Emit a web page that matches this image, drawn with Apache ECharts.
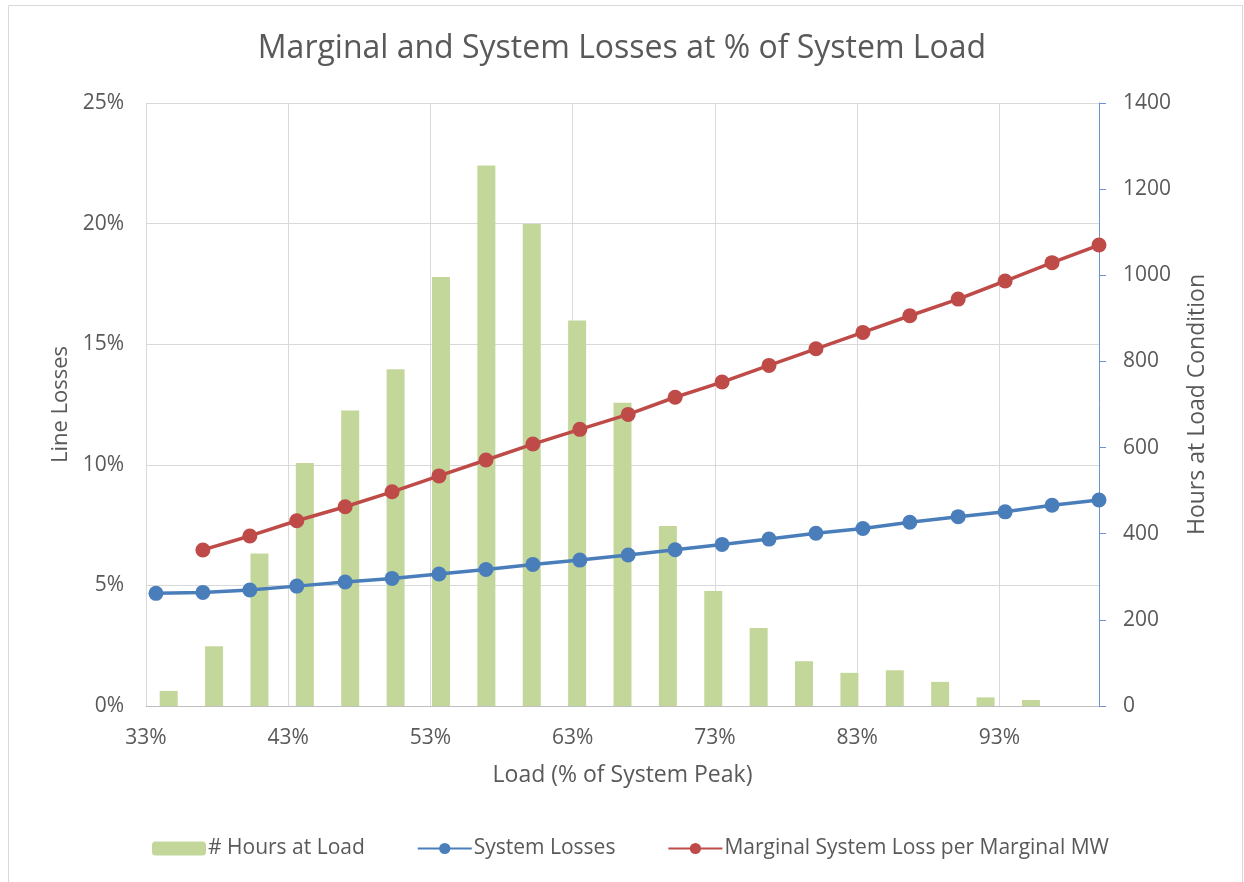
<!DOCTYPE html>
<html>
<head>
<meta charset="utf-8">
<script src="https://cdn.jsdelivr.net/npm/echarts@6/dist/echarts.min.js"></script>
<style>
html,body{margin:0;padding:0;background:#fff;}
#chart{width:1244px;height:882px;}
</style>
</head>
<body>
<div id="chart"></div>
<script>
// Data
const titleText = 'Marginal and System Losses at % of System Load';
const xTickLabels = ['33%', '43%', '53%', '63%', '73%', '83%', '93%'];
const leftTickLabels = ['0%', '5%', '10%', '15%', '20%', '25%'];
const rightTickLabels = ['0', '200', '400', '600', '800', '1000', '1200', '1400'];

// # Hours at Load (bars, on 21 load bins; last bin empty)
const hourBins = ['b1','b2','b3','b4','b5','b6','b7','b8','b9','b10','b11','b12','b13','b14','b15','b16','b17','b18','b19','b20','b21'];
const hoursAtLoad = [35, 139, 354, 564, 686, 782, 996, 1255, 1119, 895, 704, 418, 267, 181, 104, 77, 83, 56, 20, 14, 0];

// Load (% of system peak) for the line points
const loadPct = [33.7, 37.0, 40.3, 43.6, 47.0, 50.3, 53.6, 56.9, 60.2, 63.5, 66.9, 70.2, 73.5, 76.8, 80.1, 83.4, 86.7, 90.1, 93.4, 96.7, 100.0];
// System Losses (%)
const systemLosses = [4.67, 4.71, 4.81, 4.97, 5.14, 5.29, 5.47, 5.66, 5.87, 6.05, 6.26, 6.48, 6.70, 6.92, 7.16, 7.36, 7.62, 7.85, 8.05, 8.32, 8.54];
// Marginal System Loss per Marginal MW (%) — starts at second load point
const marginalLoss = [null, 6.47, 7.05, 7.68, 8.26, 8.88, 9.54, 10.20, 10.86, 11.47, 12.09, 12.80, 13.43, 14.12, 14.81, 15.49, 16.18, 16.87, 17.62, 18.38, 19.11];

const FONT = '"Open Sans", "Noto Sans", sans-serif';
const TXT = '#595959';

const chart = echarts.init(document.getElementById('chart'), null, {renderer: 'canvas'});

const pairs = (xs, ys) => xs.map((x, i) => [x, ys[i]]).filter(p => p[1] !== null);

chart.setOption({
  animation: false,
  backgroundColor: '#ffffff',
  textStyle: {fontFamily: FONT},
  title: {
    text: titleText,
    left: 'center',
    top: 28,
    textStyle: {fontFamily: FONT, fontSize: 32, fontWeight: 'normal', color: TXT}
  },
  graphic: [{
    type: 'rect',
    shape: {x: 8.5, y: 5.5, width: 1234, height: 900},
    style: {fill: 'none', stroke: '#D9D9D9', lineWidth: 1},
    silent: true
  }],
  legend: {
    bottom: 18,
    left: 147,
    itemWidth: 54,
    itemHeight: 14,
    itemGap: 52,
    textStyle: {fontFamily: FONT, fontSize: 21, color: TXT, padding: [0, 0, 0, -3]},
    data: ['# Hours at Load', 'System Losses', 'Marginal System Loss per Marginal MW']
  },
  grid: {left: 146, right: 145, top: 103, bottom: 176, containLabel: false},
  xAxis: [{
    type: 'value',
    min: 33,
    max: 100,
    interval: 10,
    name: 'Load (% of System Peak)',
    nameLocation: 'middle',
    nameGap: 58,
    nameTextStyle: {fontFamily: FONT, fontSize: 23, color: TXT},
    axisLine: {show: true, lineStyle: {color: '#BFBFBF', width: 1}},
    axisTick: {show: false},
    axisLabel: {
      fontFamily: FONT, fontSize: 21, color: TXT, margin: 22,
      showMaxLabel: false,
      formatter: v => (v >= 100 ? '' : (xTickLabels[Math.round((v - 33) / 10)] || ''))
    },
    splitLine: {show: true, lineStyle: {color: '#D9D9D9', width: 1}}
  }, {
    type: 'category',
    data: hourBins,
    boundaryGap: true,
    show: false
  }],
  yAxis: [{
    type: 'value',
    min: 0,
    max: 25,
    interval: 5,
    name: 'Line Losses',
    nameLocation: 'middle',
    nameGap: 74,
    nameTextStyle: {fontFamily: FONT, fontSize: 22, color: TXT},
    axisLine: {show: false},
    axisTick: {show: false},
    axisLabel: {
      fontFamily: FONT, fontSize: 21, color: TXT, margin: 22,
      formatter: v => leftTickLabels[Math.round(v / 5)]
    },
    splitLine: {show: true, lineStyle: {color: '#D9D9D9', width: 1}}
  }, {
    type: 'value',
    min: 0,
    max: 1400,
    interval: 200,
    position: 'right',
    name: 'Hours at Load Condition',
    nameLocation: 'middle',
    nameGap: 87,
    nameTextStyle: {fontFamily: FONT, fontSize: 23, color: TXT},
    axisLine: {show: true, lineStyle: {color: '#6A93CF', width: 1}},
    axisTick: {show: true, inside: false, length: 7, lineStyle: {color: '#6A93CF'}},
    axisLabel: {
      fontFamily: FONT, fontSize: 21, color: TXT, margin: 24,
      formatter: v => rightTickLabels[Math.round(v / 200)]
    },
    splitLine: {show: false}
  }],
  series: [{
    name: '# Hours at Load',
    type: 'bar',
    xAxisIndex: 1,
    yAxisIndex: 1,
    barWidth: 18,
    data: hoursAtLoad,
    itemStyle: {color: '#C4D79B'},
    z: 1
  }, {
    name: 'System Losses',
    type: 'line',
    xAxisIndex: 0,
    yAxisIndex: 0,
    data: pairs(loadPct, systemLosses),
    symbol: 'circle',
    symbolSize: 15,
    lineStyle: {color: '#4A7EBB', width: 3.5},
    itemStyle: {color: '#4A7EBB'},
    z: 3
  }, {
    name: 'Marginal System Loss per Marginal MW',
    type: 'line',
    xAxisIndex: 0,
    yAxisIndex: 0,
    data: pairs(loadPct, marginalLoss),
    symbol: 'circle',
    symbolSize: 15,
    lineStyle: {color: '#BE4B48', width: 3.5},
    itemStyle: {color: '#BE4B48'},
    z: 3
  }]
});
</script>
</body>
</html>
